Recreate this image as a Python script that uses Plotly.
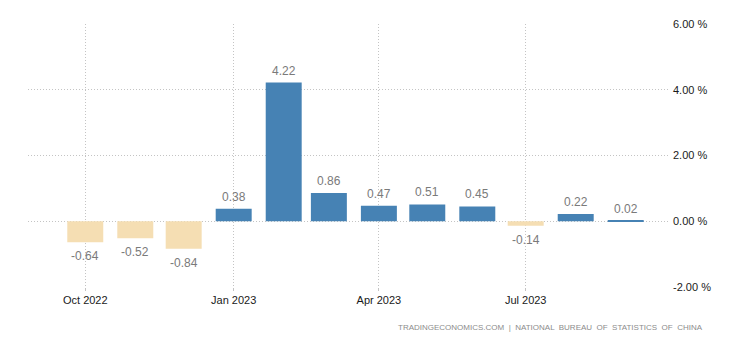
import plotly.graph_objects as go

months = ["2022-10-01", "2022-11-01", "2022-12-01", "2023-01-01", "2023-02-01", "2023-03-01",
          "2023-04-01", "2023-05-01", "2023-06-01", "2023-07-01", "2023-08-01", "2023-09-01"]
values = [-0.64, -0.52, -0.84, 0.38, 4.22, 0.86, 0.47, 0.51, 0.45, -0.14, 0.22, 0.02]
tick_vals = ["2022-10-01", "2023-01-01", "2023-04-01", "2023-07-01"]
tick_text = ["Oct 2022", "Jan 2023", "Apr 2023", "Jul 2023"]
y_ticks = [-2, 0, 2, 4, 6]
y_tick_text = ["-2.00 %", "0.00 %", "2.00 %", "4.00 %", "6.00 %"]
source = "TRADINGECONOMICS.COM  |  NATIONAL  BUREAU  OF  STATISTICS  OF  CHINA"

POS = "#4682B4"
NEG = "#F5DEB3"
FONT = "Liberation Sans, Arial, sans-serif"
DAY = 86400000
GRID = "#c4c4c4"

fig = go.Figure()
fig.add_trace(go.Bar(
    x=months, y=values,
    marker=dict(color=[POS if v >= 0 else NEG for v in values], line=dict(width=0)),
    width=[22.3 * DAY] * len(values),
    hoverinfo="skip",
))

for m, v in zip(months, values):
    fig.add_annotation(
        x=m, y=v, text=f"{v:.2f}", showarrow=False,
        yanchor="middle", yshift=12 if v >= 0 else -14,
        font=dict(family=FONT, size=12, color="#7a7a7a"),
    )

fig.add_annotation(
    xref="paper", yref="paper", x=1.058, y=-0.155, xanchor="right", yanchor="middle",
    text=source, showarrow=False,
    font=dict(family=FONT, size=8, color="#8c8c8c"),
)

fig.update_layout(
    width=747, height=360,
    margin=dict(l=28, r=79, t=24, b=73),
    paper_bgcolor="white", plot_bgcolor="white",
    showlegend=False,
    font=dict(family=FONT, size=11, color="#333333"),
    xaxis=dict(
        type="date",
        range=["2022-08-26 12:00", "2023-09-27 05:00"],
        tickvals=tick_vals, ticktext=tick_text,
        showgrid=True, gridcolor=GRID, griddash="1px,2px", gridwidth=1,
        ticks="outside", ticklen=3, tickcolor=GRID,
        showline=False, zeroline=False,
        tickfont=dict(family=FONT, size=11, color="#1a1a1a"),
    ),
    yaxis=dict(
        side="right",
        range=[-2, 6], tickvals=y_ticks, ticktext=y_tick_text,
        showgrid=True, gridcolor=GRID, griddash="1px,2px", gridwidth=1,
        zeroline=False, showline=False,
        ticklabelstandoff=4,
        tickfont=dict(family=FONT, size=11, color="#1a1a1a"),
    ),
)

fig.write_html("out.html", config={"displayModeBar": False},
               post_script="document.body.style.margin='0';")
